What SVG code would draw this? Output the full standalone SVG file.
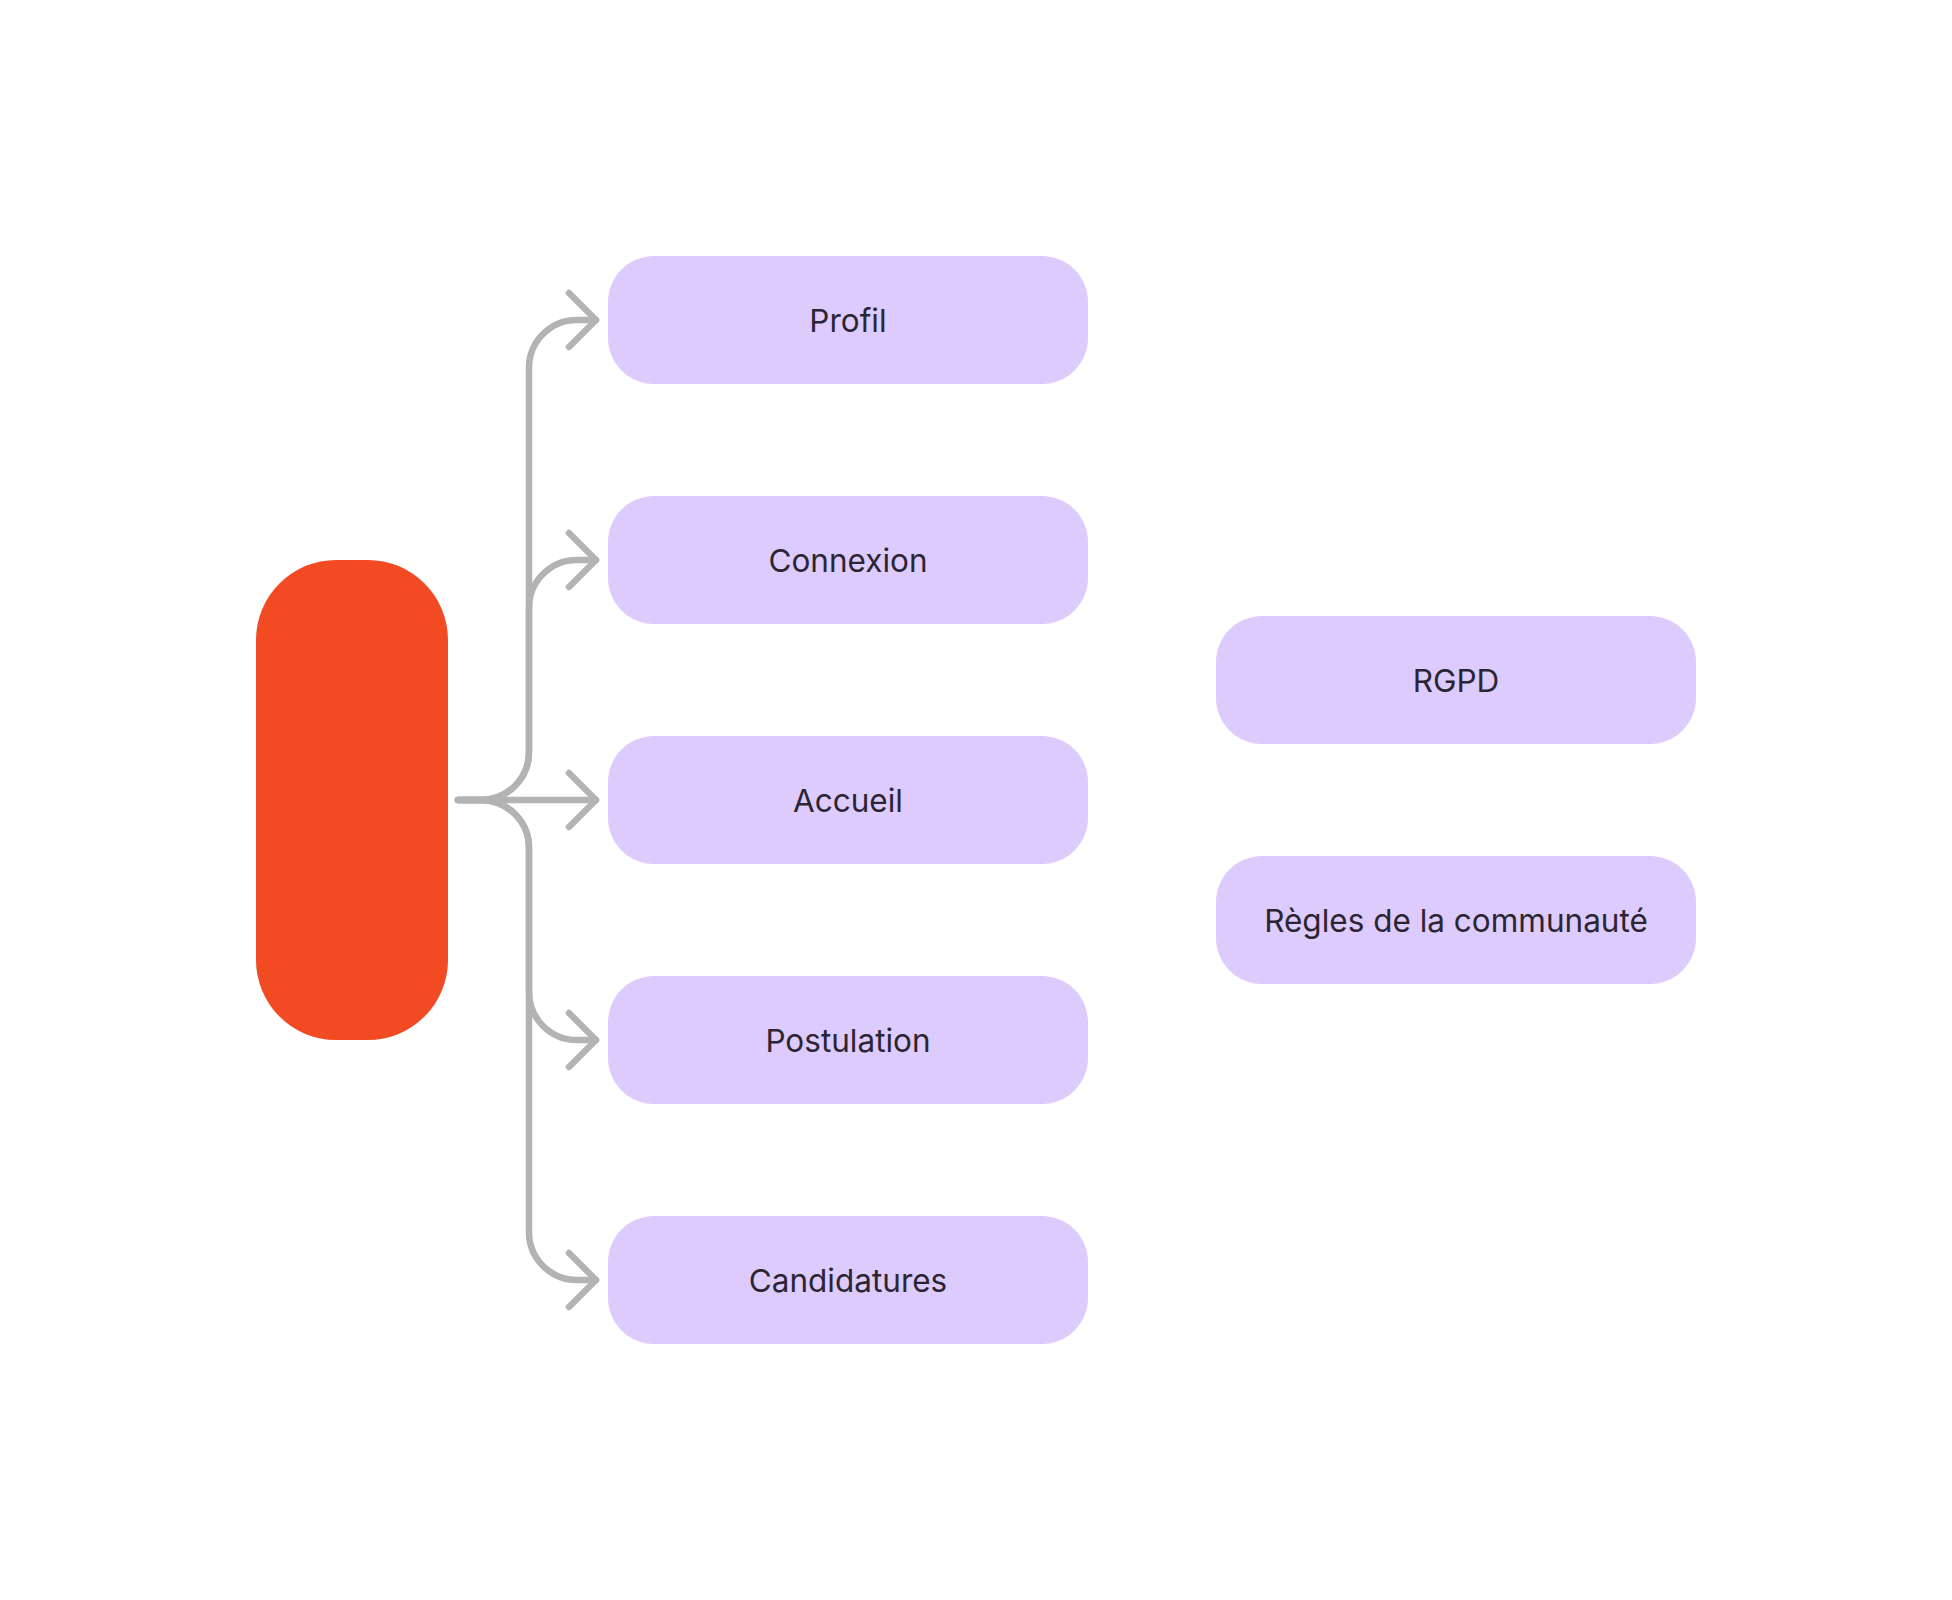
<svg xmlns="http://www.w3.org/2000/svg" width="1952" height="1600" viewBox="0 0 1952 1600">
<style>
.box{fill:#ddcbfe}
.root{fill:#f24b23}
.lbl{font-family:Inter,"Noto Sans","Liberation Sans",sans-serif;font-size:31.5px;fill:#2b2533;text-anchor:middle}
.edge{fill:none;stroke:#b3b3b3;stroke-width:6.5;stroke-linecap:round;stroke-linejoin:round;marker-end:url(#chev)}
</style>
<defs>
<marker id="chev" markerUnits="userSpaceOnUse" viewBox="-34 -34 40 68" refX="0" refY="0" markerWidth="40" markerHeight="68" orient="auto" overflow="visible">
<path d="M-27,-27 L0,0 L-27,27" fill="none" stroke="#b3b3b3" stroke-width="6.5" stroke-linecap="round" stroke-linejoin="round"/>
</marker>
</defs>
<rect width="1952" height="1600" fill="#ffffff"/>
<g id="connectors">
<path class="edge" d="M458,800 L481,800 A48,48 0 0 0 529,752 L529,368 A48,48 0 0 1 577,320 L596,320"/>
<path class="edge" d="M458,800 L481,800 A48,48 0 0 0 529,752 L529,608 A48,48 0 0 1 577,560 L596,560"/>
<path class="edge" d="M458,800 L596,800"/>
<path class="edge" d="M458,800 L481,800 A48,48 0 0 1 529,848 L529,992 A48,48 0 0 0 577,1040 L596,1040"/>
<path class="edge" d="M458,800 L481,800 A48,48 0 0 1 529,848 L529,1232 A48,48 0 0 0 577,1280 L596,1280"/>
</g>
<g id="root"><rect class="root" x="256" y="560" width="192" height="480" rx="80" ry="80"/></g>
<g id="profil"><rect class="box" x="608" y="256" width="480" height="128" rx="46"/><text class="lbl" x="848" y="332">Profil</text></g>
<g id="connexion"><rect class="box" x="608" y="496" width="480" height="128" rx="46"/><text class="lbl" x="848" y="572">Connexion</text></g>
<g id="accueil"><rect class="box" x="608" y="736" width="480" height="128" rx="46"/><text class="lbl" x="848" y="812">Accueil</text></g>
<g id="postulation"><rect class="box" x="608" y="976" width="480" height="128" rx="46"/><text class="lbl" x="848" y="1052">Postulation</text></g>
<g id="candidatures"><rect class="box" x="608" y="1216" width="480" height="128" rx="46"/><text class="lbl" x="848" y="1292">Candidatures</text></g>
<g id="rgpd"><rect class="box" x="1216" y="616" width="480" height="128" rx="46"/><text class="lbl" x="1456" y="692">RGPD</text></g>
<g id="regles"><rect class="box" x="1216" y="856" width="480" height="128" rx="46"/><text class="lbl" x="1456" y="932">Règles de la communauté</text></g>
</svg>
